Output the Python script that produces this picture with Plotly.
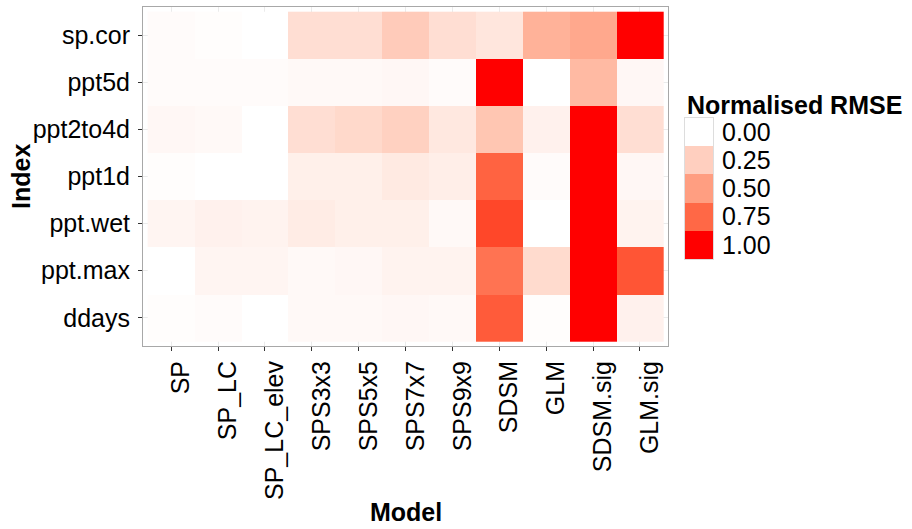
import plotly.graph_objects as go

models = ["SP", "SP_LC", "SP_LC_elev", "SPS3x3", "SPS5x5", "SPS7x7",
          "SPS9x9", "SDSM", "GLM", "SDSM.sig", "GLM.sig"]
indices = ["ddays", "ppt.max", "ppt.wet", "ppt1d", "ppt2to4d", "ppt5d", "sp.cor"]

ddays    = [0.01, 0.02, 0.00, 0.03, 0.03, 0.04, 0.03, 0.80, 0.01, 1.00, 0.07]
ppt_max  = [0.00, 0.05, 0.05, 0.03, 0.04, 0.06, 0.06, 0.70, 0.19, 1.00, 0.82]
ppt_wet  = [0.05, 0.07, 0.06, 0.10, 0.08, 0.08, 0.03, 0.87, 0.00, 1.00, 0.06]
ppt1d    = [0.01, 0.00, 0.00, 0.08, 0.08, 0.11, 0.09, 0.77, 0.02, 1.00, 0.04]
ppt2to4d = [0.04, 0.03, 0.00, 0.17, 0.20, 0.24, 0.12, 0.30, 0.07, 1.00, 0.17]
ppt5d    = [0.02, 0.02, 0.02, 0.03, 0.03, 0.04, 0.02, 1.00, 0.00, 0.36, 0.04]
sp_cor   = [0.02, 0.01, 0.00, 0.17, 0.17, 0.27, 0.17, 0.13, 0.40, 0.45, 1.00]

legend_values = [0.00, 0.25, 0.50, 0.75, 1.00]
legend_labels = ["0.00", "0.25", "0.50", "0.75", "1.00"]

z = [ddays, ppt_max, ppt_wet, ppt1d, ppt2to4d, ppt5d, sp_cor]


# white -> red gradient interpolated in CIELAB (like ggplot2)
def lab_to_rgb(L, a, b):
    fy = (L + 16) / 116
    fx = fy + a / 500
    fz = fy - b / 200

    def finv(t):
        return t ** 3 if t ** 3 > 0.008856 else (t - 16 / 116) / 7.787
    X = 0.95047 * finv(fx)
    Y = 1.00000 * finv(fy)
    Z = 1.08883 * finv(fz)
    r = 3.2406 * X - 1.5372 * Y - 0.4986 * Z
    g = -0.9689 * X + 1.8758 * Y + 0.0415 * Z
    bb = 0.0557 * X - 0.2040 * Y + 1.0570 * Z

    def gam(c):
        c = max(0.0, min(1.0, c))
        return 12.92 * c if c <= 0.0031308 else 1.055 * c ** (1 / 2.4) - 0.055
    return tuple(int(round(255 * gam(c))) for c in (r, g, bb))


lab_white = (100.0, 0.0, 0.0)
lab_red = (53.24, 80.09, 67.20)
n = 20
colorscale = []
for i in range(n + 1):
    t = i / n
    L = lab_white[0] + (lab_red[0] - lab_white[0]) * t
    A = lab_white[1] + (lab_red[1] - lab_white[1]) * t
    B = lab_white[2] + (lab_red[2] - lab_white[2]) * t
    r, g, b = lab_to_rgb(L, A, B)
    colorscale.append([t, f"rgb({r},{g},{b})"])
colorscale[0][1] = "rgb(255,255,255)"
colorscale[-1][1] = "rgb(255,0,0)"

FONT = "Liberation Sans, Arial, sans-serif"
FS = 25

fig = go.Figure()
fig.add_trace(go.Heatmap(
    z=z, x=models, y=indices, colorscale=colorscale, zmin=0, zmax=1,
    showscale=False, xaxis="x", yaxis="y",
))
fig.add_trace(go.Heatmap(
    z=[[v] for v in legend_values], x=["key"], y=legend_labels,
    colorscale=colorscale, zmin=0, zmax=1, showscale=False,
    xaxis="x2", yaxis="y2",
))

W, H = 912, 529
ml, mr, mt, mb = 143, 10, 7, 183
pw = W - ml - mr
ph = H - mt - mb
panel_right = 668


def px_x(x):
    return (x - ml) / pw


def px_y(y):
    return (H - mb - y) / ph


fig.update_layout(
    width=W, height=H,
    margin=dict(l=ml, r=mr, t=mt, b=mb, pad=0),
    paper_bgcolor="white", plot_bgcolor="white",
    font=dict(family=FONT, size=FS, color="black"),
    xaxis=dict(
        domain=[0, px_x(panel_right)], range=[-0.6, 10.6],
        type="category", tickangle=-90, ticks="outside", ticklen=4,
        tickcolor="#333333", tickwidth=1, ticklabelshift=10,
        ticklabelstandoff=0,
        showgrid=True, gridcolor="#EBEBEB", gridwidth=1,
        showline=True, mirror=True, linecolor="#A8A8A8", linewidth=1,
        zeroline=False, tickfont=dict(size=FS, color="black", family=FONT),
        anchor="y",
    ),
    yaxis=dict(
        domain=[0, 1], range=[-0.6, 6.6], type="category",
        ticks="outside", ticklen=4, tickcolor="#333333", tickwidth=1,
        ticklabelstandoff=3,
        showgrid=True, gridcolor="#EBEBEB", gridwidth=1,
        showline=True, mirror=True, linecolor="#A8A8A8", linewidth=1,
        zeroline=False, tickfont=dict(size=FS, color="black", family=FONT),
        anchor="x",
    ),
    xaxis2=dict(
        domain=[px_x(685), px_x(713)], anchor="y2", showticklabels=False,
        ticks="", showgrid=False, zeroline=False,
        showline=True, mirror=True, linecolor="#DDDDDD", linewidth=1,
    ),
    yaxis2=dict(
        domain=[px_y(259), px_y(118)], anchor="x2", side="right",
        autorange="reversed", type="category", ticks="", showgrid=False,
        tickmode="array", tickvals=legend_labels, ticktext=legend_labels,
        zeroline=False, ticklabelstandoff=3,
        showline=True, mirror=True, linecolor="#DDDDDD", linewidth=1,
        tickfont=dict(size=FS, color="black", family=FONT),
    ),
    annotations=[
        dict(text="<b>Index</b>", x=px_x(21), y=px_y(177), xref="paper",
             yref="paper", showarrow=False, textangle=-90,
             font=dict(size=FS, family=FONT, color="black"),
             xanchor="center", yanchor="middle"),
        dict(text="<b>Model</b>", x=px_x(406), y=px_y(512), xref="paper",
             yref="paper", showarrow=False,
             font=dict(size=FS, family=FONT, color="black"),
             xanchor="center", yanchor="middle"),
        dict(text="<b>Normalised RMSE</b>", x=px_x(685), y=px_y(105),
             xref="paper", yref="paper", showarrow=False,
             font=dict(size=FS, family=FONT, color="black"),
             xanchor="left", yanchor="middle"),
    ],
)

fig.write_html("out.html")
